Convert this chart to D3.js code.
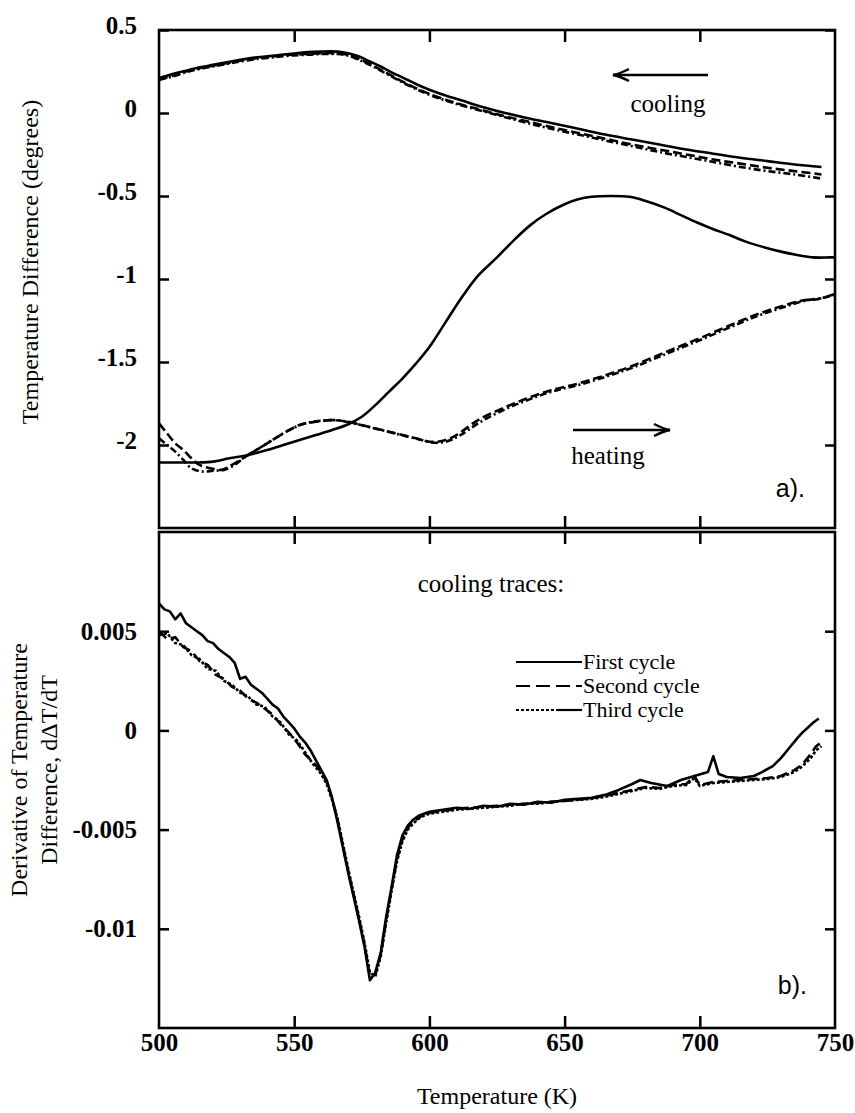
<!DOCTYPE html>
<html>
<head>
<meta charset="utf-8">
<script src="https://d3js.org/d3.v7.min.js"></script>
<style>
body { margin: 0; background: #fff; }
.tick line { stroke: #000; stroke-width: 2.5px; }
.trace { fill: none; stroke: #000; stroke-width: 2.6px; stroke-linejoin: round; }
</style>
</head>
<body>
<svg id="chart" width="855" height="1113"></svg>
<script>
// ---- data ----
var xTicks = [500, 550, 600, 650, 700, 750];
var xInner = [550, 600, 650, 700];
var yTicksA = [0.5, 0, -0.5, -1, -1.5, -2];
var yTicksB = [0.005, 0, -0.005, -0.01];

// a) heating, first cycle
var heatT1 = [500, 505, 510, 515, 520, 526, 533, 540, 546, 552, 558, 564, 570, 575, 580, 585, 590, 595, 600, 606, 612, 618, 625, 631, 637, 643, 650, 655, 660, 667, 674, 680, 687, 693, 699, 705, 711, 717, 724, 730, 736, 742, 748, 750];
var heat1 = [-2.105, -2.105, -2.105, -2.105, -2.10, -2.08, -2.06, -2.03, -2.00, -1.97, -1.94, -1.91, -1.875, -1.83, -1.76, -1.68, -1.60, -1.51, -1.41, -1.26, -1.11, -0.98, -0.87, -0.77, -0.68, -0.61, -0.55, -0.52, -0.505, -0.50, -0.505, -0.53, -0.57, -0.615, -0.66, -0.70, -0.735, -0.775, -0.81, -0.835, -0.855, -0.87, -0.87, -0.87];
// a) heating, second cycle
var heatT2 = [500, 503, 506, 509, 512, 515, 519, 523, 527, 531, 535, 540, 546, 552, 558, 564, 570, 575, 580, 585, 590, 595, 600, 605, 610, 618, 627, 636, 645, 655, 665, 674, 683, 692, 701, 711, 720, 729, 738, 744, 750];
var heat2 = [-1.87, -1.93, -1.99, -2.03, -2.08, -2.12, -2.14, -2.15, -2.12, -2.08, -2.04, -1.99, -1.93, -1.88, -1.86, -1.85, -1.86, -1.88, -1.90, -1.92, -1.94, -1.96, -1.98, -1.975, -1.94, -1.85, -1.78, -1.72, -1.67, -1.63, -1.58, -1.53, -1.47, -1.41, -1.35, -1.28, -1.22, -1.17, -1.13, -1.12, -1.09];
// a) heating, third cycle
var heatT3 = [500, 503, 506, 509, 512, 516, 520, 524, 528, 532, 536, 541, 547, 553, 559, 565, 571, 576, 581, 586, 591, 596, 601, 606, 611, 619, 628, 637, 646, 656, 666, 675, 684, 693, 702, 712, 721, 730, 739, 745, 750];
var heat3 = [-1.96, -2.00, -2.04, -2.09, -2.14, -2.16, -2.155, -2.15, -2.12, -2.07, -2.03, -1.98, -1.92, -1.875, -1.855, -1.85, -1.865, -1.885, -1.905, -1.925, -1.945, -1.965, -1.985, -1.98, -1.945, -1.86, -1.785, -1.725, -1.675, -1.635, -1.585, -1.535, -1.475, -1.415, -1.355, -1.285, -1.225, -1.175, -1.13, -1.115, -1.095];

// a) cooling traces
var coolT = [500, 505, 510, 515, 520, 525, 530, 536, 542, 548, 554, 560, 566, 570, 574, 578, 582, 586, 590, 595, 600, 606, 612, 620, 628, 636, 645, 655, 665, 675, 685, 695, 705, 715, 725, 735, 745];
var cool1 = [0.21, 0.235, 0.255, 0.275, 0.29, 0.305, 0.32, 0.335, 0.345, 0.355, 0.365, 0.37, 0.37, 0.36, 0.34, 0.31, 0.28, 0.245, 0.215, 0.175, 0.14, 0.105, 0.075, 0.035, 0.0, -0.03, -0.06, -0.095, -0.13, -0.16, -0.19, -0.22, -0.245, -0.27, -0.29, -0.31, -0.325];
var cool2 = [0.20, 0.225, 0.25, 0.27, 0.285, 0.30, 0.315, 0.33, 0.34, 0.35, 0.355, 0.36, 0.36, 0.35, 0.325, 0.295, 0.26, 0.225, 0.19, 0.15, 0.115, 0.08, 0.05, 0.015, -0.02, -0.05, -0.085, -0.12, -0.155, -0.19, -0.22, -0.25, -0.28, -0.305, -0.33, -0.35, -0.37];
var cool3 = [0.20, 0.22, 0.245, 0.265, 0.28, 0.295, 0.31, 0.325, 0.335, 0.345, 0.35, 0.355, 0.355, 0.345, 0.32, 0.29, 0.255, 0.22, 0.185, 0.145, 0.11, 0.075, 0.045, 0.01, -0.025, -0.06, -0.095, -0.13, -0.165, -0.2, -0.235, -0.265, -0.295, -0.325, -0.35, -0.37, -0.395];

// b) derivative, cooling traces
var dT1 = [500, 502, 504, 506, 508, 510, 512, 514, 516, 518, 520, 522, 524, 526, 528, 530, 532, 534, 536, 538, 540, 542, 544, 546, 548, 550, 552, 554, 556, 558, 560, 562, 564, 566, 568, 570, 572, 574, 576, 578, 580, 582, 584, 586, 588, 590, 592, 594, 596, 598, 600, 605, 610, 615, 620, 625, 630, 635, 640, 645, 650, 655, 660, 665, 670, 675, 678, 682, 688, 693, 698, 703, 705, 707, 710, 715, 720, 723, 727, 730, 733, 736, 738, 740, 742, 744];
var d1 = [0.0064, 0.0061, 0.0060, 0.0056, 0.0059, 0.0054, 0.0052, 0.0050, 0.0048, 0.0045, 0.0044, 0.0041, 0.0039, 0.0037, 0.0034, 0.0026, 0.0027, 0.0023, 0.0021, 0.0019, 0.0016, 0.0013, 0.0011, 0.0007, 0.0004, 0.0001, -0.0003, -0.0006, -0.0010, -0.0015, -0.0020, -0.0025, -0.0034, -0.0046, -0.0059, -0.0072, -0.0084, -0.0096, -0.0109, -0.0126, -0.0122, -0.0112, -0.0094, -0.0079, -0.0063, -0.0053, -0.0048, -0.0045, -0.0043, -0.0042, -0.0041, -0.0040, -0.0039, -0.00395, -0.0038, -0.00385, -0.0037, -0.00375, -0.0036, -0.00365, -0.0035, -0.00345, -0.0034, -0.00325, -0.0030, -0.0027, -0.0025, -0.00265, -0.0028, -0.0025, -0.0023, -0.0021, -0.0013, -0.0022, -0.00235, -0.0024, -0.0023, -0.0021, -0.0018, -0.0014, -0.0009, -0.0004, -0.0001, 0.00015, 0.0004, 0.0006];
var dT23 = [500, 503, 506, 509, 512, 515, 518, 521, 524, 527, 530, 533, 536, 539, 542, 545, 548, 551, 554, 557, 560, 562, 564, 566, 568, 570, 572, 574, 576, 578, 580, 582, 584, 586, 588, 590, 592, 594, 596, 598, 600, 605, 610, 615, 620, 625, 630, 635, 640, 645, 650, 655, 660, 665, 670, 675, 680, 685, 690, 695, 698, 700, 705, 710, 715, 720, 725, 730, 735, 738, 741, 743, 745];
var d2 = [0.0050, 0.0046, 0.0047, 0.0042, 0.0040, 0.0035, 0.0033, 0.0028, 0.0026, 0.0022, 0.0020, 0.0016, 0.0014, 0.0011, 0.0008, 0.0003, -0.0001, -0.0006, -0.0012, -0.0016, -0.0021, -0.0026, -0.0034, -0.0045, -0.0058, -0.0071, -0.0083, -0.0095, -0.0108, -0.0124, -0.0123, -0.0113, -0.0096, -0.0080, -0.0065, -0.0055, -0.0049, -0.0046, -0.0044, -0.00425, -0.00415, -0.00405, -0.00395, -0.0039, -0.00385, -0.0038, -0.00375, -0.0037, -0.00365, -0.0036, -0.00355, -0.0035, -0.0034, -0.0033, -0.00315, -0.0030, -0.00285, -0.0029, -0.00275, -0.0027, -0.0023, -0.00275, -0.0026, -0.00255, -0.0025, -0.00245, -0.0024, -0.0023, -0.0020, -0.0017, -0.0012, -0.0008, -0.0006];
var d3v = [0.0048, 0.0049, 0.0044, 0.0043, 0.0038, 0.0036, 0.0031, 0.0030, 0.0025, 0.0023, 0.0019, 0.0017, 0.0013, 0.0012, 0.0007, 0.0004, -0.0002, -0.0005, -0.0011, -0.0017, -0.0022, -0.0027, -0.0035, -0.0044, -0.0057, -0.0070, -0.0082, -0.0094, -0.0107, -0.0122, -0.0124, -0.0114, -0.0097, -0.0081, -0.0066, -0.0056, -0.0050, -0.0047, -0.00445, -0.0043, -0.0042, -0.0041, -0.0040, -0.00395, -0.0039, -0.00385, -0.0038, -0.0037, -0.0037, -0.0036, -0.00355, -0.0035, -0.00345, -0.00335, -0.0032, -0.00305, -0.0029, -0.00295, -0.0028, -0.00275, -0.0024, -0.0028, -0.00265, -0.0026, -0.00255, -0.0025, -0.00245, -0.00235, -0.0021, -0.0018, -0.0014, -0.0010, -0.0008];

var legendNames = ["First cycle", "Second cycle", "Third cycle"];

// ---- layout ----
var SERIF = "Liberation Serif";
var SANS = "Liberation Sans";
var svg = d3.select("#chart");
var x = d3.scaleLinear().domain([500, 750]).range([159, 835]);
var yA = d3.scaleLinear().domain([-2.5, 0.5]).range([528, 30]);
var yB = d3.scaleLinear().domain([-0.015, 0.01]).range([1028, 532]);

var noLabel = function(){ return ""; };
var plain = function(d){ return String(d); };

var addAxis = function(g, axis){
  g.call(axis);
  g.select(".domain").remove();
  g.attr("font-family", SERIF).attr("font-size", 25);
  g.selectAll(".tick text")
    .attr("font-family", SERIF).attr("font-size", 25).attr("font-weight", "bold")
    .attr("fill", "#000");
};

var txt = function(px, py, s, anchor, fam, size){
  return svg.append("text")
    .attr("x", px).attr("y", py)
    .attr("text-anchor", anchor)
    .attr("font-family", fam).attr("font-size", size)
    .text(s);
};

var drawTrace = function(g, xs, ys, y, dash, curve){
  var line = d3.line()
    .x(function(d, i){ return x(xs[i]); })
    .y(function(d){ return y(d); })
    .curve(curve || d3.curveLinear);
  g.append("path")
    .datum(ys)
    .attr("class", "trace")
    .attr("stroke-dasharray", dash)
    .attr("d", line);
};

var panel = function(y, yTicks, labelDy, id){
  var top = y.range()[1], bottom = y.range()[0];
  var g = svg.append("g");
  g.append("clipPath").attr("id", id)
    .append("rect").attr("x", x(500)).attr("y", top)
    .attr("width", x(750) - x(500)).attr("height", bottom - top);

  var left = g.append("g").attr("transform", "translate(" + x(500) + ",0)");
  addAxis(left, d3.axisLeft(y).tickValues(yTicks).tickSize(-10).tickPadding(22).tickFormat(plain));
  left.selectAll(".tick text").attr("dy", labelDy);
  addAxis(g.append("g").attr("transform", "translate(" + x(750) + ",0)"),
    d3.axisRight(y).tickValues(yTicks).tickSize(-10).tickFormat(noLabel));
  addAxis(g.append("g").attr("transform", "translate(0," + top + ")"),
    d3.axisTop(x).tickValues(xInner).tickSize(-12).tickFormat(noLabel));
  addAxis(g.append("g").attr("transform", "translate(0," + bottom + ")"),
    d3.axisBottom(x).tickValues(xInner).tickSize(-12).tickFormat(noLabel));

  g.append("rect")
    .attr("x", x(500)).attr("y", top)
    .attr("width", x(750) - x(500)).attr("height", bottom - top)
    .attr("fill", "none").attr("stroke", "#000").attr("stroke-width", 2.6);

  return g.append("g").attr("clip-path", "url(#" + id + ")");
};

// ---- panel a ----
var smooth = d3.curveCatmullRom;
var pa = panel(yA, yTicksA, "0.15em", "clipA");
drawTrace(pa, coolT, cool1, yA, null, smooth);
drawTrace(pa, coolT, cool2, yA, "9,4", smooth);
drawTrace(pa, coolT, cool3, yA, "7,3,2,3", smooth);
drawTrace(pa, heatT1, heat1, yA, null, smooth);
drawTrace(pa, heatT2, heat2, yA, "9,4", smooth);
drawTrace(pa, heatT3, heat3, yA, "7,3,2,3", smooth);

var arrow = function(x1, x2, y){
  var dir = x2 > x1 ? -1 : 1;
  svg.append("path")
    .attr("d", "M" + x1 + "," + y + "L" + x2 + "," + y)
    .attr("stroke", "#000").attr("stroke-width", 2.4).attr("fill", "none");
  svg.append("path")
    .attr("d", "M" + (x2 + dir * 16) + "," + (y - 6) + "Q" + (x2 + dir * 6) + "," + (y - 1) + " " + x2 + "," + y +
               "Q" + (x2 + dir * 6) + "," + (y + 1) + " " + (x2 + dir * 16) + "," + (y + 6))
    .attr("stroke", "#000").attr("stroke-width", 2.4).attr("fill", "none");
};
arrow(708, 613, 75);
txt(668, 112, "cooling", "middle", SERIF, 25);
arrow(573, 670, 430);
txt(608, 464, "heating", "middle", SERIF, 25);
txt(805, 497, "a).", "end", SANS, 25);

svg.append("text")
  .attr("transform", "translate(38,262) rotate(-90)")
  .attr("text-anchor", "middle")
  .attr("font-family", SERIF).attr("font-size", 24)
  .text("Temperature Difference (degrees)");

// ---- panel b ----
var pb = panel(yB, yTicksB, "0.32em", "clipB");
drawTrace(pb, dT23, d3v, yB, "3,2");
drawTrace(pb, dT23, d2, yB, "10,5");
drawTrace(pb, dT1, d1, yB, null);

// bottom tick labels
addAxis(svg.append("g").attr("transform", "translate(0," + yB.range()[0] + ")"),
  d3.axisBottom(x).tickValues(xTicks).tickSize(0).tickPadding(5).tickFormat(plain));

txt(497, 1104, "Temperature (K)", "middle", SERIF, 24);
txt(491, 592, "cooling traces:", "middle", SERIF, 25);
txt(807, 994, "b).", "end", SANS, 25);

var yTitle = svg.append("text")
  .attr("transform", "translate(0,770) rotate(-90)")
  .attr("text-anchor", "middle")
  .attr("font-family", SERIF).attr("font-size", 24);
yTitle.append("tspan").attr("x", 0).attr("y", 27).text("Derivative of Temperature");
yTitle.append("tspan").attr("x", 0).attr("y", 57).text("Difference, d\u0394T/dT");

// legend
var legDash = [null, "14,6", "3,2"];
var leg = svg.append("g");
legendNames.forEach(function(name, i){
  var ly = 662 + i * 24;
  leg.append("line").attr("x1", 516).attr("x2", i == 2 ? 557 : 582).attr("y1", ly).attr("y2", ly)
    .attr("stroke", "#000").attr("stroke-width", 2.2).attr("stroke-dasharray", legDash[i]);
  if (i == 2)
    leg.append("line").attr("x1", 557).attr("x2", 582).attr("y1", ly).attr("y2", ly)
      .attr("stroke", "#000").attr("stroke-width", 2.2);
  txt(583, ly + 7, name, "start", SERIF, 22);
});
</script>
</body>
</html>
